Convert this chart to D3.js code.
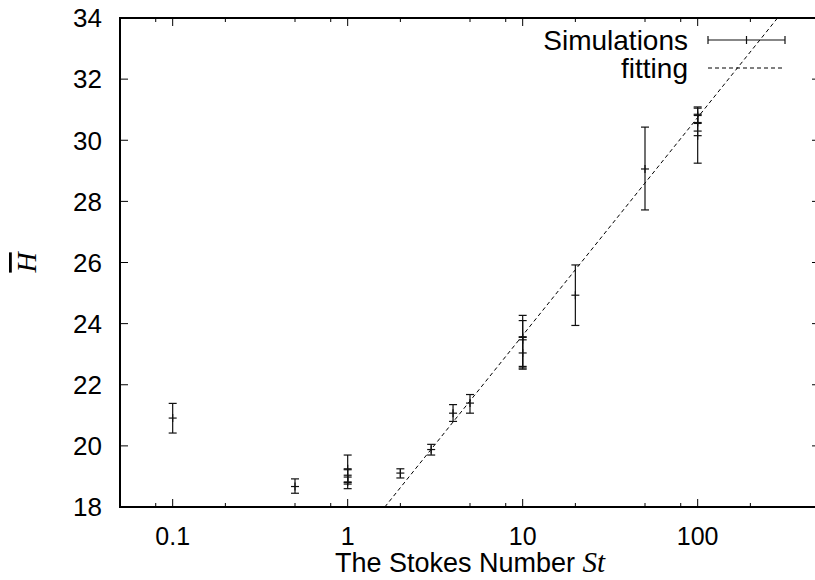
<!DOCTYPE html>
<html>
<head>
<meta charset="utf-8">
<script src="https://cdn.jsdelivr.net/npm/d3@7"></script>
<style>
  body { margin: 0; background: #fff; overflow: hidden; }
  svg { display: block; font-family: "Liberation Sans", Arial, Helvetica, sans-serif; }
</style>
</head>
<body>
<div id="chart"></div>
<script>
// simulation points: Stokes number, mean H, error bar low / high
const stValues = [0.1, 0.5, 1, 1, 1, 2, 3, 4, 5, 10, 10, 10, 20, 50, 100, 100, 100];
const hMeans = [20.91, 18.67, 19.25, 18.98, 18.82, 19.11, 19.88, 21.07, 21.4, 23.57, 23.47, 23.04, 24.93, 29.06, 30.81, 30.58, 30.15];
const hLows = [20.42, 18.45, 18.8, 18.75, 18.6, 18.95, 19.7, 20.8, 21.07, 22.51, 22.6, 22.55, 23.94, 27.72, 30.55, 30.3, 29.25];
const hHighs = [21.39, 18.92, 19.7, 19.22, 19.04, 19.25, 20.05, 21.35, 21.68, 24.27, 24.1, 23.55, 25.92, 30.43, 31.09, 30.85, 31.05];

// fitting line end points
const fitSt = [1.63, 286];
const fitH = [18, 34];

const xMajor = [0.1, 1, 10, 100];
const xMinor = [0.08, 0.2, 0.5, 0.8, 2, 5, 8, 20, 50, 80, 200];
const yTicks = [18, 20, 22, 24, 26, 28, 30, 32, 34];

const width = 815,
  height = 580;
const plotLeft = 120,
  plotRight = 820,
  plotTop = 18,
  plotBottom = 507;

const x = d3.scaleLog().domain([0.05, 500]).range([plotLeft, plotRight]);
const y = d3.scaleLinear().domain([18, 34]).range([plotBottom, plotTop]);

const svg = d3
  .select('#chart')
  .append('svg')
  .attr('width', width)
  .attr('height', height);

svg
  .append('clipPath')
  .attr('id', 'plot-clip')
  .append('rect')
  .attr('x', plotLeft)
  .attr('y', plotTop)
  .attr('width', plotRight - plotLeft)
  .attr('height', plotBottom - plotTop);

// ticks (inward, mirrored on top and right)
const tickLayer = svg.append('g').attr('stroke', '#000').attr('stroke-width', 1);

function xTick(v, len) {
  tickLayer.append('line').attr('x1', x(v)).attr('x2', x(v)).attr('y1', plotBottom).attr('y2', plotBottom - len);
  tickLayer.append('line').attr('x1', x(v)).attr('x2', x(v)).attr('y1', plotTop).attr('y2', plotTop + len);
}
xMajor.forEach(v => xTick(v, 8));
xMinor.forEach(v => xTick(v, 4));

yTicks.forEach(v => {
  tickLayer.append('line').attr('x1', plotLeft).attr('x2', plotLeft + 8).attr('y1', y(v)).attr('y2', y(v));
  tickLayer.append('line').attr('x1', plotRight).attr('x2', plotRight - 8).attr('y1', y(v)).attr('y2', y(v));
});

// tick labels
svg
  .append('g')
  .selectAll('text')
  .data(xMajor)
  .join('text')
  .attr('x', d => x(d))
  .attr('y', 545)
  .attr('text-anchor', 'middle')
  .attr('font-size', 25)
  .text(d => d3.format('~g')(d));

svg
  .append('g')
  .selectAll('text')
  .data(yTicks)
  .join('text')
  .attr('x', 102)
  .attr('y', d => y(d))
  .attr('dy', '0.36em')
  .attr('text-anchor', 'end')
  .attr('font-size', 26)
  .text(d => d);

// axis titles
const xTitle = svg
  .append('text')
  .attr('x', 470)
  .attr('y', 572)
  .attr('text-anchor', 'middle')
  .attr('font-size', 27);
xTitle.append('tspan').text('The Stokes Number ');
xTitle
  .append('tspan')
  .attr('font-family', '"Liberation Serif", "DejaVu Serif", serif')
  .attr('font-style', 'italic')
  .attr('font-size', 29)
  .text('St');

svg
  .append('text')
  .attr('transform', `translate(36,${(plotTop + plotBottom) / 2}) rotate(-90)`)
  .attr('text-anchor', 'middle')
  .attr('font-family', '"Liberation Serif", "DejaVu Serif", serif')
  .attr('font-style', 'italic')
  .attr('font-size', 28)
  .style('text-decoration', 'overline')
  .text('H');

// fitting line
const plot = svg.append('g').attr('clip-path', 'url(#plot-clip)');
plot
  .append('path')
  .datum(fitSt.map((s, i) => [s, fitH[i]]))
  .attr('d', d3.line().x(d => x(d[0])).y(d => y(d[1])))
  .attr('fill', 'none')
  .attr('stroke', '#000')
  .attr('stroke-width', 1)
  .attr('stroke-dasharray', '4,3');

// error bars
const points = stValues.map((s, i) => ({ s, h: hMeans[i], lo: hLows[i], hi: hHighs[i] }));
const bars = plot
  .append('g')
  .attr('stroke', '#111')
  .attr('stroke-width', 1.2)
  .selectAll('g')
  .data(points)
  .join('g');

bars.append('line').attr('x1', d => x(d.s)).attr('x2', d => x(d.s)).attr('y1', d => y(d.lo)).attr('y2', d => y(d.hi));
bars.append('line').attr('x1', d => x(d.s) - 4).attr('x2', d => x(d.s) + 4).attr('y1', d => y(d.lo)).attr('y2', d => y(d.lo));
bars.append('line').attr('x1', d => x(d.s) - 4).attr('x2', d => x(d.s) + 4).attr('y1', d => y(d.hi)).attr('y2', d => y(d.hi));
bars.append('line').attr('x1', d => x(d.s) - 4).attr('x2', d => x(d.s) + 4).attr('y1', d => y(d.h)).attr('y2', d => y(d.h));
bars.append('line').attr('x1', d => x(d.s)).attr('x2', d => x(d.s)).attr('y1', d => y(d.h) - 4).attr('y2', d => y(d.h) + 4);

// legend
const legend = svg.append('g').attr('font-size', 28);
legend.append('text').attr('x', 688).attr('y', 40).attr('dy', '0.36em').attr('text-anchor', 'end').text('Simulations');
legend.append('text').attr('x', 688).attr('y', 68).attr('dy', '0.36em').attr('text-anchor', 'end').text('fitting');

const lg = legend.append('g').attr('stroke', '#111').attr('stroke-width', 1.2);
lg.append('line').attr('x1', 708).attr('x2', 785).attr('y1', 40).attr('y2', 40);
lg.append('line').attr('x1', 708).attr('x2', 708).attr('y1', 36).attr('y2', 44);
lg.append('line').attr('x1', 785).attr('x2', 785).attr('y1', 36).attr('y2', 44);
lg.append('line').attr('x1', 746.5).attr('x2', 746.5).attr('y1', 36).attr('y2', 44);
legend
  .append('line')
  .attr('x1', 708)
  .attr('x2', 785)
  .attr('y1', 68)
  .attr('y2', 68)
  .attr('stroke', '#000')
  .attr('stroke-dasharray', '4,3');

// border
svg
  .append('rect')
  .attr('x', plotLeft)
  .attr('y', plotTop)
  .attr('width', plotRight - plotLeft)
  .attr('height', plotBottom - plotTop)
  .attr('fill', 'none')
  .attr('stroke', '#000')
  .attr('stroke-width', 2);
</script>
</body>
</html>
